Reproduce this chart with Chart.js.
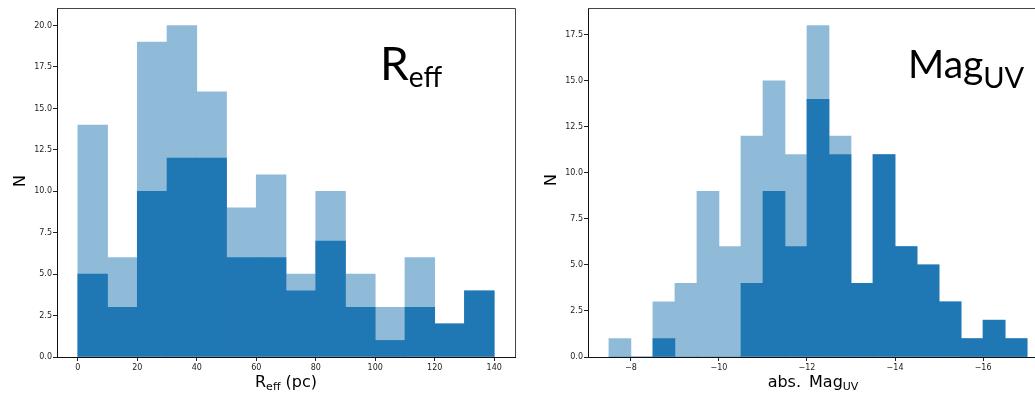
<!DOCTYPE html>
<html>
<head>
<meta charset="utf-8">
<script src="https://cdn.jsdelivr.net/npm/chart.js@4.4.0/dist/chart.umd.min.js"></script>
<style>
  html, body { margin: 0; padding: 0; background: #fff; overflow: hidden; width: 1035px; height: 394px; }
  canvas { position: absolute; top: 0; }
  #reffChart { left: 0; }
  #magChart { left: 520px; }
</style>
</head>
<body>
<canvas id="reffChart" width="520" height="394"></canvas>
<canvas id="magChart" width="540" height="394"></canvas>
<script>
// effective radius histogram (10 pc bins, centres)
const reffBins = [5, 15, 25, 35, 45, 55, 65, 75, 85, 95, 105, 115, 125, 135];
const reffAll  = [14, 6, 19, 20, 16, 9, 11, 5, 10, 5, 3, 6, 2, 4];
const reffSub  = [5, 3, 10, 12, 12, 6, 6, 4, 7, 3, 1, 3, 2, 4];
const reffTicks = [0, 20, 40, 60, 80, 100, 120, 140];
const reffCountTicks = [0, 2.5, 5, 7.5, 10, 12.5, 15, 17.5, 20];

// absolute UV magnitude histogram (0.5 mag bins, centres)
const magBins = [-7.75, -8.25, -8.75, -9.25, -9.75, -10.25, -10.75, -11.25, -11.75, -12.25,
                 -12.75, -13.25, -13.75, -14.25, -14.75, -15.25, -15.75, -16.25, -16.75];
const magAll  = [1, 0, 3, 4, 9, 6, 12, 15, 11, 18, 12, 4, 11, 6, 5, 3, 1, 2, 1];
const magSub  = [0, 0, 1, 0, 0, 0, 4, 9, 6, 14, 11, 4, 11, 6, 5, 3, 1, 2, 1];
const magTicks = [-8, -10, -12, -14, -16];
const magCountTicks = [0, 2.5, 5, 7.5, 10, 12.5, 15, 17.5];

const DARK = '#1f77b4';
const LIGHT = '#8fbbd9';
const tickFont = { family: 'DejaVu Sans', size: 8 };

// draw a run of text pieces (with subscripts) starting or centred at x
function drawPieces(ctx, pieces, x, y, align) {
  let total = 0;
  pieces.forEach(p => { ctx.font = p.font; total += ctx.measureText(p.t).width; });
  let cx = align === 'center' ? x - total / 2 : x;
  ctx.textAlign = 'left';
  ctx.textBaseline = 'alphabetic';
  pieces.forEach(p => {
    ctx.font = p.font;
    ctx.fillText(p.t, cx, y + (p.dy || 0));
    cx += ctx.measureText(p.t).width;
  });
}

function labelPlugin(opts) {
  return {
    id: 'panelLabels',
    afterDraw(chart) {
      const ctx = chart.ctx;
      const a = chart.chartArea;
      ctx.save();
      // top and right spines
      ctx.strokeStyle = '#444';
      ctx.lineWidth = 1;
      ctx.beginPath();
      ctx.moveTo(a.left, a.top - 0.5);
      if (opts.rightSpine) {
        ctx.lineTo(a.right + 0.5, a.top - 0.5);
        ctx.lineTo(a.right + 0.5, a.bottom);
      } else {
        ctx.lineTo(chart.width, a.top - 0.5);
      }
      ctx.stroke();

      ctx.fillStyle = '#000';
      // y axis title
      ctx.save();
      ctx.translate(opts.nX, opts.nY);
      ctx.rotate(-Math.PI / 2);
      ctx.font = '16px "DejaVu Sans"';
      ctx.textAlign = 'center';
      ctx.textBaseline = 'middle';
      ctx.fillText('N', 0, 0);
      ctx.restore();

      // x axis title
      drawPieces(ctx, opts.xTitle, opts.xTitleX, 387, 'center');
      // panel label
      drawPieces(ctx, opts.bigLabel, opts.bigX, opts.bigY, 'left');
      ctx.restore();
    }
  };
}

function histConfig(opts) {
  return {
    type: 'bar',
    data: {
      datasets: [
        { data: opts.bins.map((x, i) => ({ x: x, y: opts.sub[i] })), backgroundColor: DARK, order: 0 },
        { data: opts.bins.map((x, i) => ({ x: x, y: opts.all[i] })), backgroundColor: LIGHT, order: 1 }
      ]
    },
    options: {
      responsive: false,
      animation: false,
      devicePixelRatio: 1,
      layout: { padding: { top: 9, right: opts.padRight, left: 0, bottom: 0 } },
      datasets: { bar: { grouped: false, barPercentage: 1, categoryPercentage: 1, borderWidth: 0 } },
      plugins: { legend: { display: false }, tooltip: { enabled: false } },
      scales: {
        x: {
          type: 'linear',
          offset: false,
          min: opts.xMin,
          max: opts.xMax,
          reverse: opts.reverse,
          afterBuildTicks: s => { s.ticks = opts.xTicks.map(v => ({ value: v })); },
          afterFit: s => { s.height = 37; },
          grid: { offset: false, drawOnChartArea: false, tickLength: 4, color: '#222' },
          border: { color: '#111', width: 1 },
          ticks: {
            font: tickFont, color: '#222', padding: 2, maxRotation: 0, autoSkip: false,
            callback: v => String(v).replace('-', '\u2212')
          }
        },
        y: {
          min: 0,
          max: opts.yMax,
          afterBuildTicks: s => { s.ticks = opts.yTicks.map(v => ({ value: v })); },
          afterFit: s => { s.width = opts.yWidth; },
          grid: { drawOnChartArea: false, tickLength: 4, color: '#222' },
          border: { color: '#111', width: 1 },
          ticks: { font: tickFont, color: '#222', padding: 1, callback: v => v.toFixed(1) }
        }
      }
    },
    plugins: [labelPlugin(opts)]
  };
}

new Chart(document.getElementById('reffChart'), histConfig({
  bins: reffBins, all: reffAll, sub: reffSub,
  xMin: -7, xMax: 147, reverse: false, xTicks: reffTicks,
  yMax: 21, yTicks: reffCountTicks,
  yWidth: 57, padRight: 5, rightSpine: true,
  nX: 21, nY: 181,
  xTitleX: 286,
  xTitle: [
    { t: 'R', font: '16px "DejaVu Sans"' },
    { t: 'eff', font: '11px "DejaVu Sans"', dy: 3 },
    { t: ' (pc)', font: '16px "DejaVu Sans"' }
  ],
  bigX: 380, bigY: 80,
  bigLabel: [
    { t: 'R', font: '46px Lato' },
    { t: 'eff', font: '28px Lato', dy: 7 }
  ]
}));

new Chart(document.getElementById('magChart'), histConfig({
  bins: magBins, all: magAll, sub: magSub,
  xMin: -17.475, xMax: -7.025, reverse: true, xTicks: magTicks,
  yMax: 18.9, yTicks: magCountTicks,
  yWidth: 68, padRight: 12, rightSpine: false,
  nX: 32, nY: 180,
  xTitleX: 293,
  xTitle: [
    { t: 'abs.\u2002Mag', font: '16px "DejaVu Sans"' },
    { t: 'UV', font: '11px "DejaVu Sans"', dy: 3 }
  ],
  bigX: 388, bigY: 78,
  bigLabel: [
    { t: 'Mag', font: '39px Lato' },
    { t: 'UV', font: '29px Lato', dy: 10 }
  ]
}));
</script>
</body>
</html>
